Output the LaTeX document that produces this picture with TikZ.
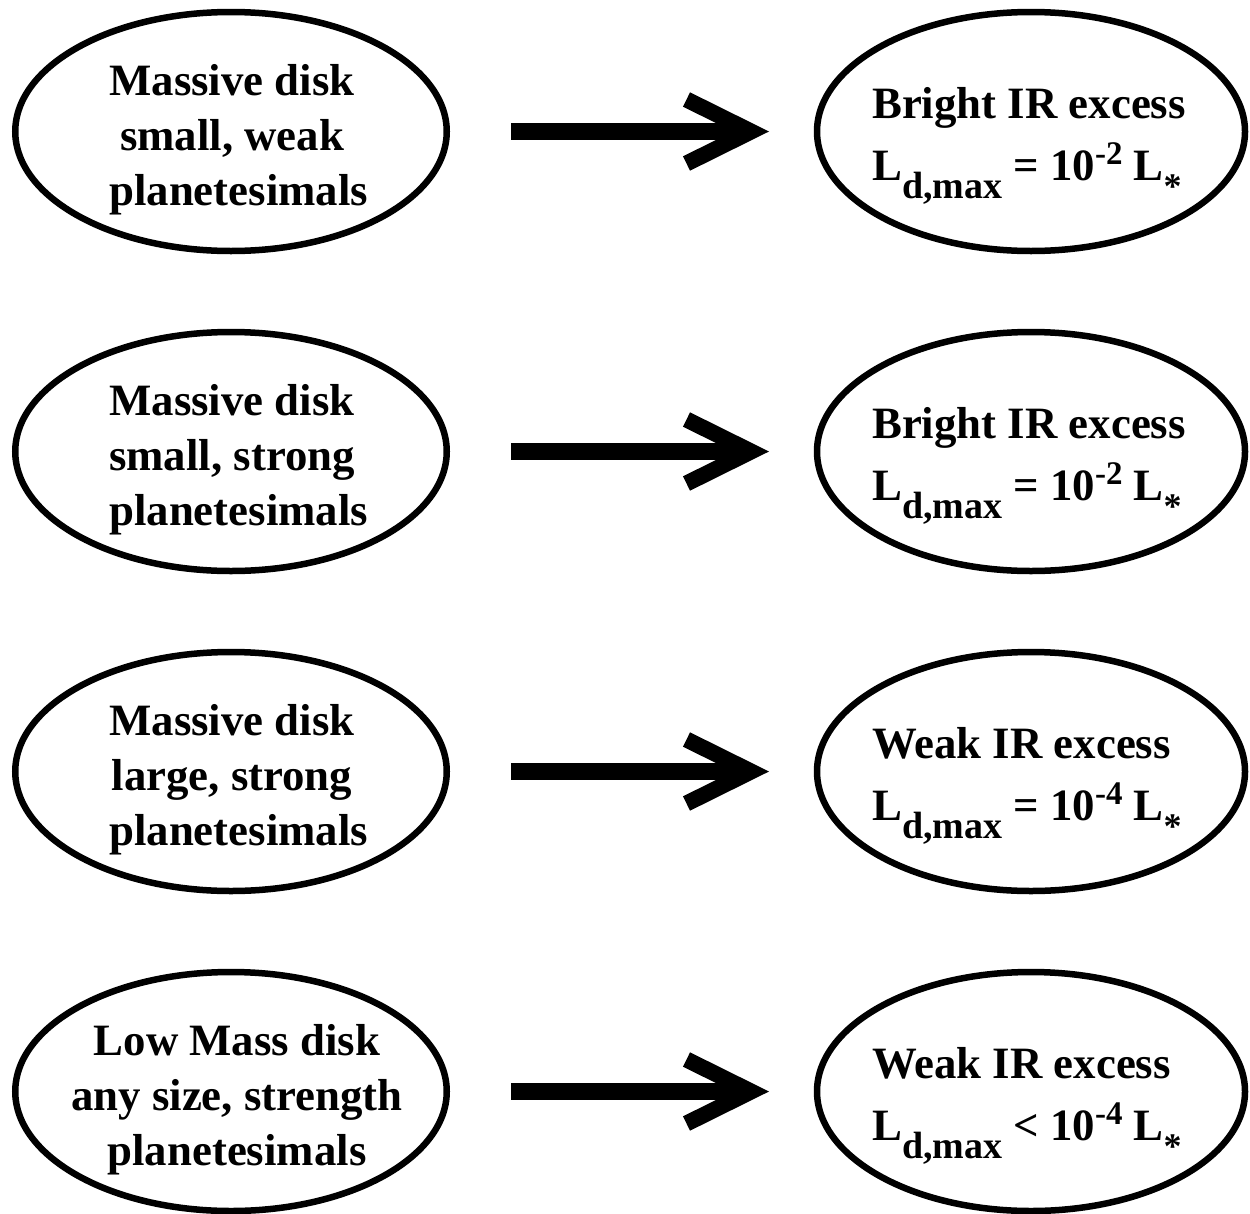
\documentclass[tikz,border=0pt]{standalone}
\usepackage{fontspec}
\setmainfont{Liberation Serif}
\usetikzlibrary{shapes.geometric,calc}
\newcommand\mysub[1]{\raisebox{-18pt}{\fontsize{38}{38}\selectfont #1}}
\newcommand\mysup[1]{\raisebox{16pt}{\fontsize{33}{33}\selectfont #1}}
\newcommand\mystar{\raisebox{-18pt}{\fontsize{36}{36}\selectfont *}}
\newcommand\lead{\hspace*{0.3em}}
\begin{document}
\begin{tikzpicture}[x=1pt,y=-1pt,
  oval/.style={draw=black, line width=6.5pt, ellipse, inner sep=0pt, minimum height=239pt},
  lefto/.style={oval, minimum width=431.5pt},
  righto/.style={oval, minimum width=428pt},
  ltxt/.style={font=\fontsize{44.8}{55}\selectfont\bfseries, align=center, inner sep=0pt, yshift=-8.5pt, xshift=1pt},
  rtxt/.style={font=\fontsize{44.8}{62}\selectfont\bfseries, align=left, inner sep=0pt, anchor=west, yshift=-13.9pt, xshift=-159pt},
  shaft/.style={line width=17pt, line cap=butt, shorten <=61pt, shorten >=66pt},
  barb/.style={line width=16pt, line join=miter, line cap=butt}
]
\useasboundingbox (0,0) rectangle (1250,1213);

\foreach \i/\y in {1/131.5, 2/451.5, 3/771.5, 4/1091.5} {
  \node[lefto] (l\i) at (231,\y) {};
  \node[righto] (r\i) at (1031,\y) {};
  \draw[shaft] (l\i) -- (r\i);
  \coordinate (t\i) at (751,\y);
  \draw[barb] ($(t\i)+(-64.5,-32)$) -- (t\i) -- ($(t\i)+(-64.5,32)$);
}

\node[ltxt] (l1t) at (l1) {Massive disk\\small, weak\\\lead planetesimals};
\node[ltxt] (l2t) at (l2) {Massive disk\\small, strong\\\lead planetesimals};
\node[ltxt] (l3t) at (l3) {Massive disk\\large, strong\\\lead planetesimals};
\node[ltxt, xshift=5pt] (l4t) at (l4) {Low Mass disk\\any size, strength\\planetesimals};

\node[rtxt] (r1t) at (r1) {Bright IR excess\\L\mysub{d,max} = 10\mysup{-2} L\mystar};
\node[rtxt] (r2t) at (r2) {Bright IR excess\\L\mysub{d,max} = 10\mysup{-2} L\mystar};
\node[rtxt] (r3t) at (r3) {Weak IR excess\\L\mysub{d,max} = 10\mysup{-4} L\mystar};
\node[rtxt] (r4t) at (r4) {Weak IR excess\\L\mysub{d,max} < 10\mysup{-4} L\mystar};
\end{tikzpicture}
\end{document}
